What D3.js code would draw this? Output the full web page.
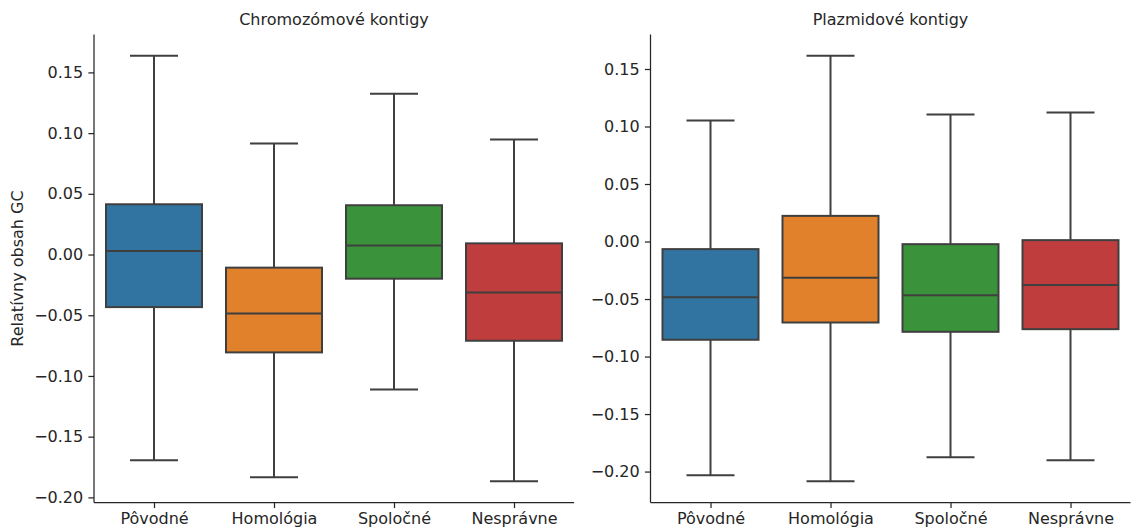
<!DOCTYPE html>
<html>
<head>
<meta charset="utf-8">
<script src="https://cdn.jsdelivr.net/npm/d3@7"></script>
<style>
  body { margin: 0; background: #fff; }
  text { font-family: "DejaVu Sans", sans-serif; fill: #262626; }
</style>
</head>
<body>
<svg width="1131" height="531"></svg>
<script>
// categories and colours
var categories = ["Pôvodné", "Homológia", "Spoločné", "Nesprávne"];
var colors = ["#3274a1", "#e1812c", "#3a923a", "#c03d3e"];
var yTicks = [-0.20, -0.15, -0.10, -0.05, 0.00, 0.05, 0.10, 0.15];

// box stats per category: [lower whisker, Q1, median, Q3, upper whisker]
var chromStats = [
    [-0.1694, -0.0433, 0.0029, 0.0414, 0.1637],
    [-0.1834, -0.0806, -0.0486, -0.0108, 0.0915],
    [-0.1112, -0.0199, 0.0075, 0.0406, 0.1325],
    [-0.1867, -0.0710, -0.0313, 0.0092, 0.0948]
];
var plasStats = [
    [-0.2032, -0.0854, -0.0484, -0.0066, 0.1052],
    [-0.2084, -0.0704, -0.0314, 0.0223, 0.1615],
    [-0.1876, -0.0785, -0.0467, -0.0023, 0.1104],
    [-0.1902, -0.0762, -0.0378, 0.0012, 0.1121]
];

var svg = d3.select("svg");
var lineColor = "#3f3f3f";
var fontSize = "16px";

function panel(left, title, stats, ylabel){
    var width = 480, top = 34.5, bottom = 502.5;
    var height = bottom - top;

    var lo = d3.min(stats, function(d){ return d[0]; }),
        hi = d3.max(stats, function(d){ return d[4]; }),
        m = (hi - lo) * 0.05;

    var xScale = d3.scalePoint().domain(categories).range([0, width]).padding(0.5),
        yScale = d3.scaleLinear().domain([lo - m, hi + m]).range([height, 0]);

    var g = svg.append("g").attr("transform", "translate(" + left + "," + top + ")");
    var boxW = xScale.step() * 0.8;

    var box = g.selectAll(".box")
        .data(stats)
        .enter().append("g")
        .attr("class", "box")
        .attr("transform", function(d, i){ return "translate(" + xScale(categories[i]) + ",0)"; });

    // whiskers
    box.append("line").attr("x1", 0).attr("x2", 0)
        .attr("y1", function(d){ return yScale(d[4]); })
        .attr("y2", function(d){ return yScale(d[3]); })
        .attr("stroke", lineColor).attr("stroke-width", 2);
    box.append("line").attr("x1", 0).attr("x2", 0)
        .attr("y1", function(d){ return yScale(d[1]); })
        .attr("y2", function(d){ return yScale(d[0]); })
        .attr("stroke", lineColor).attr("stroke-width", 2);
    // caps
    [0, 4].forEach(function(k){
        box.append("line")
            .attr("x1", -boxW / 4).attr("x2", boxW / 4)
            .attr("y1", function(d){ return yScale(d[k]); })
            .attr("y2", function(d){ return yScale(d[k]); })
            .attr("stroke", lineColor).attr("stroke-width", 2);
    });
    // box
    box.append("rect")
        .attr("x", -boxW / 2)
        .attr("width", boxW)
        .attr("y", function(d){ return yScale(d[3]); })
        .attr("height", function(d){ return yScale(d[1]) - yScale(d[3]); })
        .attr("fill", function(d, i){ return colors[i]; })
        .attr("stroke", lineColor).attr("stroke-width", 2);
    // median
    box.append("line")
        .attr("x1", -boxW / 2).attr("x2", boxW / 2)
        .attr("y1", function(d){ return yScale(d[2]); })
        .attr("y2", function(d){ return yScale(d[2]); })
        .attr("stroke", lineColor).attr("stroke-width", 2);

    // axes
    var yAxis = g.append("g")
        .call(d3.axisLeft(yScale).tickValues(yTicks).tickFormat(d3.format(".2f")).tickSize(5.6).tickPadding(5.2));
    var xAxis = g.append("g").attr("transform", "translate(0," + height + ")")
        .call(d3.axisBottom(xScale).tickSize(5.6).tickPadding(4.6));

    [yAxis, xAxis].forEach(function(a){
        a.selectAll("text").style("font-size", fontSize).attr("fill", "#262626");
        a.selectAll("line").attr("stroke", "#262626").attr("stroke-width", 1.25);
        a.select(".domain").attr("stroke", "#262626").attr("stroke-width", 1.25);
    });
    yAxis.select(".domain").attr("d", "M0,0V" + height);
    xAxis.select(".domain").attr("d", "M0,0H" + width);

    g.append("text")
        .attr("x", width / 2).attr("y", -10)
        .attr("text-anchor", "middle")
        .style("font-size", fontSize)
        .text(title);

    if (ylabel) {
        g.append("text")
            .attr("transform", "translate(" + (-71.5) + "," + (height / 2) + ") rotate(-90)")
            .attr("text-anchor", "middle")
            .style("font-size", fontSize)
            .text(ylabel);
    }
}

panel(94, "Chromozómové kontigy", chromStats, "Relatívny obsah GC");
panel(650.5, "Plazmidové kontigy", plasStats, null);
</script>
</body>
</html>
